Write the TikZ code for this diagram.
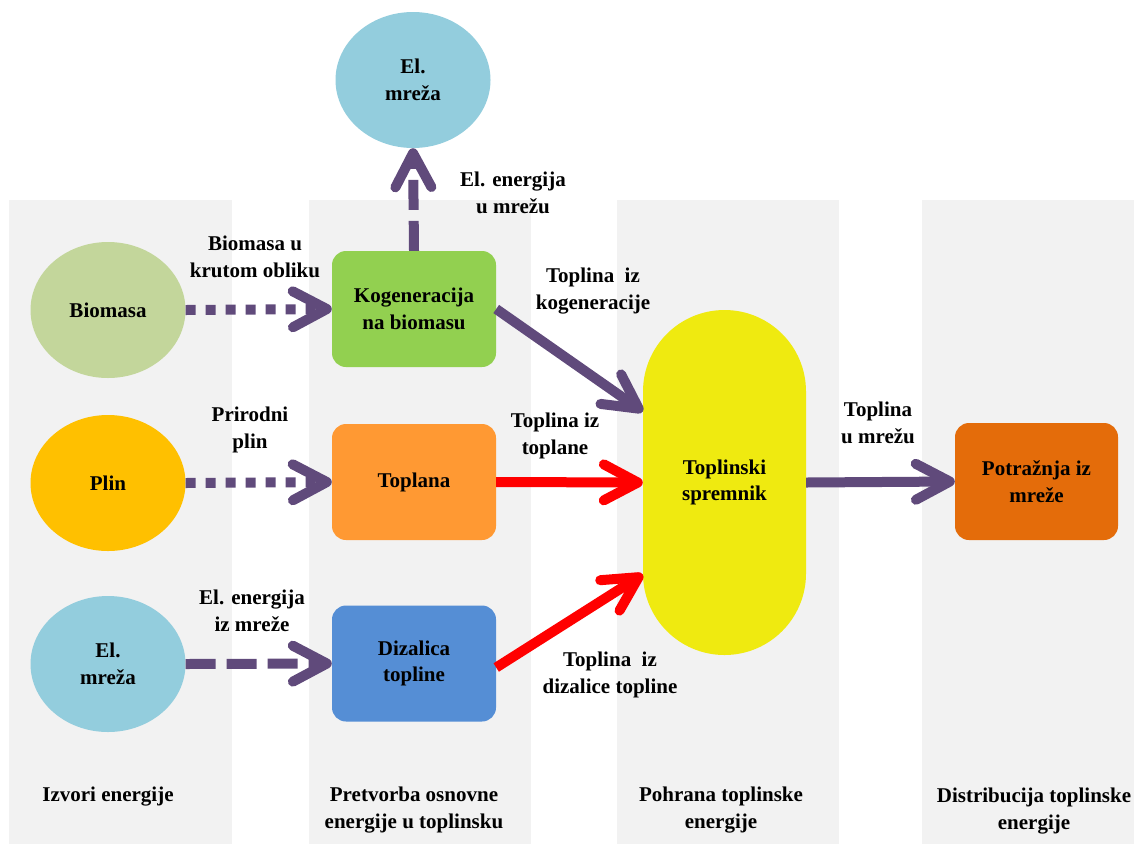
\documentclass[tikz,border=0pt]{standalone}
\usepackage{fontspec}
\setmainfont{LiberationSerif}[Extension=.ttf, UprightFont=*-Regular, BoldFont=*-Bold]
\usetikzlibrary{arrows.meta,shapes.geometric,calc}
\definecolor{panel}{HTML}{F2F2F2}
\definecolor{purp}{HTML}{604A7B}
\definecolor{cgreen}{HTML}{92D050}
\definecolor{corange}{HTML}{FF9933}
\definecolor{cblue}{HTML}{558ED5}
\definecolor{cdark}{HTML}{E46C0A}
\definecolor{cyel}{HTML}{EFEA10}
\definecolor{cbio}{HTML}{C3D69B}
\definecolor{cplin}{HTML}{FFC000}
\definecolor{cel}{HTML}{93CDDD}
\tikzset{
  lbl/.style={font=\rmfamily\bfseries\fontsize{21}{26.5}\selectfont, align=center, inner sep=0pt, text=black},
  box/.style={lbl, rectangle, rounded corners=14pt, minimum width=164pt, minimum height=116pt},
  ell/.style={lbl, ellipse, minimum width=155pt, minimum height=136pt},
  arr/.style={line width=10pt, draw=purp, -{Straight Barb[length=34pt,width=36pt,round]}},
  rarr/.style={arr, draw=red},
  dotline/.style={dash pattern=on 10pt off 10pt},
  dashline/.style={dash pattern=on 30pt off 11pt}
}
\begin{document}
\begin{tikzpicture}[x=1pt,y=-1pt]
\useasboundingbox (0,0) rectangle (1134,844);
% panels
\fill[panel] (9,200) rectangle (232,844);
\fill[panel] (309,200) rectangle (531,844);
\fill[panel] (617,200) rectangle (839,844);
\fill[panel] (922,200) rectangle (1134,844);
% nodes
\node[ell, fill=cbio] (bio) at (108,310) {Biomasa};
\node[ell, fill=cplin] (plin) at (108,483) {Plin};
\node[ell, fill=cel] (elm) at (108,664) {El.\\mreža};
\node[ell, fill=cel] (elt) at (413,80) {El.\\mreža};
\node[box, fill=cgreen] (kog) at (414,309) {Kogeneracija\\na biomasu};
\node[box, fill=corange] (top) at (414,482) {Toplana};
\node[box, fill=cblue] (diz) at (414,663.5) {Dizalica\\topline};
\node[lbl, rectangle, rounded corners=81.5pt, minimum width=163pt, minimum height=345pt, fill=cyel] (spr) at (724.5,482.5) {Toplinski\\spremnik};
\node[box, fill=cdark, minimum width=163pt, minimum height=117pt] (pot) at (1036.5,481.5) {Potražnja iz\\mreže};
% connectors
\draw[arr, dotline] (bio.east) -- (kog.west);
\draw[arr, dotline] (plin.east) -- (top.west);
\draw[arr, dashline] (elm.east) -- (diz.west);
\draw[arr, dashline] (kog.north) -- (elt.south);
\draw[arr] (kog.east) -- ($(spr.west)+(0,-71)$);
\draw[rarr] (top.east) -- (spr.west);
\draw[rarr] ($(diz.east)+(0,4)$) -- ($(spr.west)+(0,92)$);
\draw[arr] (spr.east) -- (pot.west);
% labels
\node[lbl] (l1) at (255,257) {Biomasa u\\krutom obliku};
\node[lbl] (l2) at (250,430) {Prirodni\\plin};
\node[lbl] (l3) at (252,611) {El. energija\\iz mreže};
\node[lbl] (l4) at (513,193) {El. energija\\u mrežu};
\node[lbl] (l5) at (593,291) {Toplina\ \ iz\\kogeneracije};
\node[lbl] (l6) at (555,436) {Toplina iz\\toplane};
\node[lbl] (l7) at (610,675) {Toplina\ \ iz\\dizalice topline};
\node[lbl] (l8) at (878,423) {Toplina\\u mrežu};
\node[lbl] (b1) at (108,797) {Izvori energije};
\node[lbl] (b2) at (414,810) {Pretvorba osnovne\\energije u toplinsku};
\node[lbl] (b3) at (721,810) {Pohrana toplinske\\energije};
\node[lbl] (b4) at (1034,811) {Distribucija toplinske\\energije};
\end{tikzpicture}
\end{document}
